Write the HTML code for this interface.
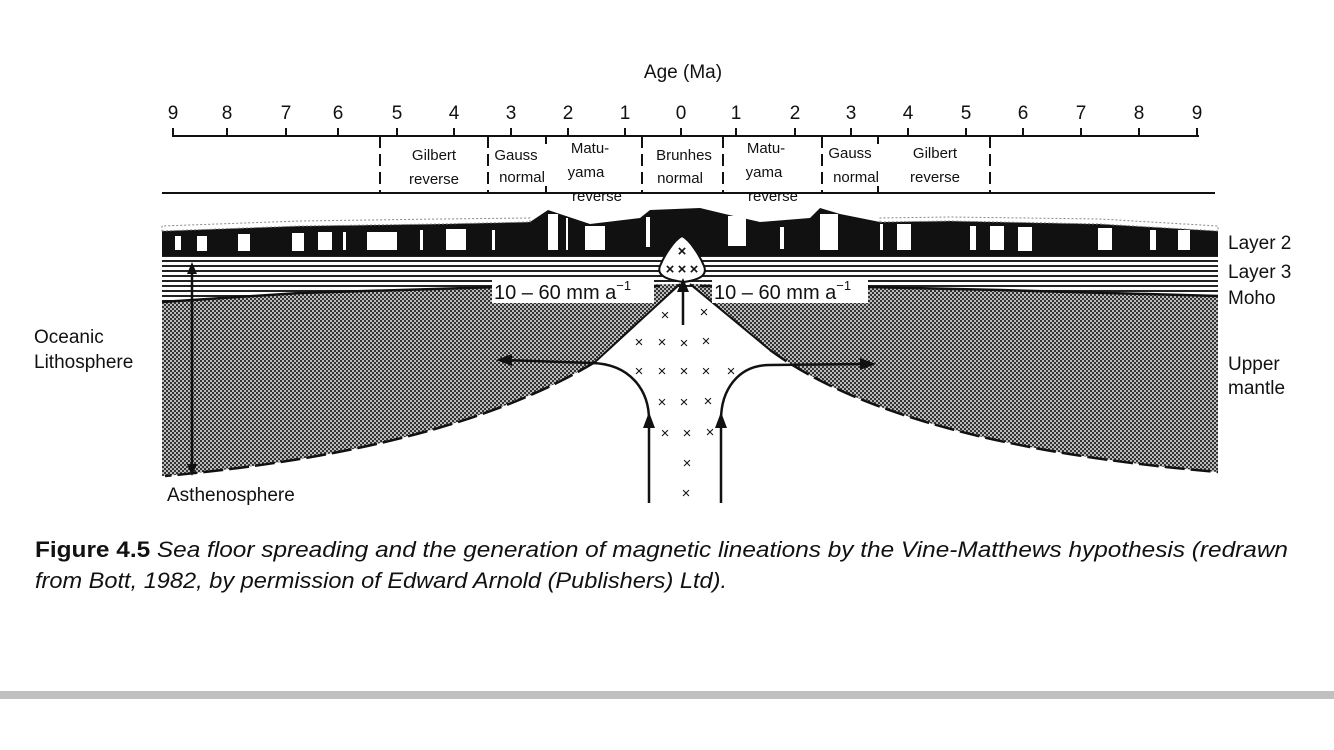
<!DOCTYPE html>
<html><head><meta charset="utf-8"><style>
html,body{margin:0;padding:0;background:#fff;}
svg{display:block;}
</style></head><body>
<svg width="1334" height="750" viewBox="0 0 1334 750" xmlns="http://www.w3.org/2000/svg" font-family="Liberation Sans, sans-serif">
<defs>
<pattern id="st" width="4" height="4" patternUnits="userSpaceOnUse">
<rect width="4" height="4" fill="#bbb"/>
<rect x="0" y="0" width="2" height="2" fill="#333"/>
<rect x="2" y="2" width="2" height="2" fill="#333"/>
</pattern>
<pattern id="hl" width="8" height="5" patternUnits="userSpaceOnUse">
<rect width="8" height="5" fill="#fff"/>
<rect x="0" y="0" width="8" height="2" fill="#222"/>
</pattern>
</defs>

<text x="683" y="78" font-size="19" text-anchor="middle" fill="#111">Age (Ma)</text>
<g font-size="19" fill="#111" text-anchor="middle">
<text x="173" y="119">9</text><text x="227" y="119">8</text><text x="286" y="119">7</text><text x="338" y="119">6</text><text x="397" y="119">5</text><text x="454" y="119">4</text><text x="511" y="119">3</text><text x="568" y="119">2</text><text x="625" y="119">1</text><text x="681" y="119">0</text><text x="736" y="119">1</text><text x="795" y="119">2</text><text x="851" y="119">3</text><text x="908" y="119">4</text><text x="966" y="119">5</text><text x="1023" y="119">6</text><text x="1081" y="119">7</text><text x="1139" y="119">8</text><text x="1197" y="119">9</text>
</g>
<g stroke="#111" stroke-width="2" fill="none">
<line x1="172" y1="136" x2="1199" y2="136"/>
<path d="M173 128V136M227 128V136M286 128V136M338 128V136M397 128V136M454 128V136M511 128V136M568 128V136M625 128V136M681 128V136M736 128V136M795 128V136M851 128V136M908 128V136M966 128V136M1023 128V136M1081 128V136M1139 128V136M1197 128V136"/>
<line x1="162" y1="193" x2="1215" y2="193"/>
<g stroke-dasharray="12 6">
<line x1="380" y1="136" x2="380" y2="193"/>
<line x1="488" y1="136" x2="488" y2="193"/>
<line x1="642" y1="136" x2="642" y2="193"/>
<line x1="723" y1="136" x2="723" y2="193"/>
<line x1="822" y1="136" x2="822" y2="193"/>
<line x1="990" y1="136" x2="990" y2="193"/>
</g>
<path d="M546 136V144M546 186V193M878 136V144M878 186V193"/>
</g>
<g font-size="15" fill="#111" text-anchor="middle">
<text x="434" y="160">Gilbert</text><text x="434" y="184">reverse</text>
<text x="516" y="160">Gauss</text><text x="522" y="182">normal</text>
<text x="590" y="153">Matu-</text><text x="586" y="177">yama</text><text x="597" y="201">reverse</text>
<text x="684" y="160">Brunhes</text><text x="680" y="183">normal</text>
<text x="766" y="153">Matu-</text><text x="764" y="177">yama</text><text x="773" y="201">reverse</text>
<text x="850" y="158">Gauss</text><text x="856" y="182">normal</text>
<text x="935" y="158">Gilbert</text><text x="935" y="182">reverse</text>
</g>

<path d="M162 255 L1218 255 L1218 296 L1000 290 L870 287 L700 287 L500 287 L300 293 L162 302Z" fill="url(#hl)"/>
<path d="M162 302 L300 293 L500 287 L680 284 L595 362 Q450 450 165 476 L162 476Z" fill="url(#st)"/>
<path d="M1218 296 L1000 290 L870 287 L690 284 L770 350 Q900 445 1218 472Z" fill="url(#st)"/>
<path d="M162 302 L300 293 L500 287 L660 286" stroke="#111" stroke-width="2.5" fill="none"/>
<path d="M700 286 L870 287 L1000 290 L1218 296" stroke="#111" stroke-width="2.5" fill="none"/>
<path d="M680 284 L595 362" stroke="#111" stroke-width="2" fill="none"/>
<path d="M595 362 Q450 450 165 476" stroke="#111" stroke-width="2.5" fill="none" stroke-dasharray="20 6"/>
<path d="M690 284 L770 350" stroke="#111" stroke-width="2" fill="none"/>
<path d="M770 350 Q900 445 1218 472" stroke="#111" stroke-width="2.5" fill="none" stroke-dasharray="20 6"/>

<path d="M162 231 L300 226 L440 224 L530 222 L548 210 L560 214 L590 224 L640 218 L650 210 L700 208 L725 214 L760 222 L810 218 L820 208 L840 214 L880 222 L950 221 L1100 224 L1218 231 L1218 256 L162 256Z" fill="#111"/>
<path d="M162 231 L300 226 L440 224 L530 222 L530 218 L440 219 L300 221 L162 226Z M880 222 L950 221 L1100 224 L1218 231 L1218 226 L1100 219 L950 217 L880 218Z" fill="#fff" stroke="#888" stroke-width="1" stroke-dasharray="2 2"/>
<g fill="#fff">
<rect x="175" y="236" width="6" height="14"/><rect x="197" y="236" width="10" height="15"/><rect x="238" y="234" width="12" height="17"/><rect x="292" y="233" width="12" height="18"/><rect x="318" y="232" width="14" height="18"/><rect x="343" y="232" width="3" height="18"/><rect x="367" y="232" width="30" height="18"/><rect x="420" y="230" width="3" height="20"/><rect x="446" y="229" width="20" height="21"/><rect x="492" y="230" width="3" height="20"/><rect x="548" y="214" width="10" height="36"/><rect x="566" y="218" width="2" height="32"/><rect x="585" y="226" width="20" height="24"/><rect x="646" y="217" width="4" height="30"/>
<rect x="728" y="216" width="18" height="30"/><rect x="780" y="227" width="4" height="22"/><rect x="820" y="214" width="18" height="36"/><rect x="880" y="224" width="3" height="26"/><rect x="897" y="224" width="14" height="26"/><rect x="970" y="226" width="6" height="24"/><rect x="990" y="226" width="14" height="24"/><rect x="1018" y="227" width="14" height="24"/><rect x="1098" y="228" width="14" height="22"/><rect x="1150" y="230" width="6" height="20"/><rect x="1178" y="230" width="12" height="20"/>
</g>

<path d="M682 236 C690 240 700 256 704 266 C708 276 698 280 684 282 C668 280 656 276 660 266 C664 256 674 240 682 236Z" fill="#fff" stroke="#111" stroke-width="2"/>
<g font-size="15" fill="#111" text-anchor="middle" font-weight="bold">
<text x="682" y="256">×</text><text x="670" y="274">×</text><text x="682" y="274">×</text><text x="694" y="274">×</text>
</g>
<rect x="492" y="279" width="162" height="24" fill="#fff"/>
<rect x="712" y="279" width="156" height="24" fill="#fff"/>
<text x="494" y="299" font-size="20" fill="#111">10 – 60 mm a<tspan font-size="13" dy="-9">−1</tspan></text>
<text x="714" y="299" font-size="20" fill="#111">10 – 60 mm a<tspan font-size="13" dy="-9">−1</tspan></text>

<g font-size="15" fill="#111" text-anchor="middle">
<text x="665" y="320">×</text><text x="704" y="317">×</text>
<text x="639" y="347">×</text><text x="662" y="347">×</text><text x="684" y="348">×</text><text x="706" y="346">×</text>
<text x="639" y="376">×</text><text x="662" y="376">×</text><text x="684" y="376">×</text><text x="706" y="376">×</text><text x="731" y="376">×</text>
<text x="662" y="407">×</text><text x="684" y="407">×</text><text x="708" y="406">×</text>
<text x="665" y="438">×</text><text x="687" y="438">×</text><text x="710" y="437">×</text>
<text x="687" y="468">×</text><text x="686" y="498">×</text>
</g>

<g stroke="#111" stroke-width="2.5" fill="none">
<path d="M683 325 V285"/>
<path d="M649 503 V420 C649 390 630 364 592 363 L505 360"/>
<path d="M721 503 V420 C721 390 738 365 770 365 L865 364"/>
<path d="M192 268 V470"/>
</g>
<g fill="#111">
<path d="M683 278 L677 292 L689 292Z"/>
<path d="M649 412 L643 428 L655 428Z"/>
<path d="M721 412 L715 428 L727 428Z"/>
<path d="M496 360 L512 354 L512 366Z"/>
<path d="M876 364 L860 358 L860 370Z"/>
<path d="M192 262 L187 274 L197 274Z"/>
<path d="M192 476 L187 464 L197 464Z"/>
</g>

<g font-size="19" fill="#111">
<text x="1228" y="249">Layer 2</text>
<text x="1228" y="278">Layer 3</text>
<text x="1228" y="304">Moho</text>
<text x="1228" y="370">Upper</text>
<text x="1228" y="394">mantle</text>
<text x="34" y="343">Oceanic</text>
<text x="34" y="368">Lithosphere</text>
<text x="167" y="501">Asthenosphere</text>
</g>

<text x="35" y="557" font-size="22" fill="#111" textLength="1253" lengthAdjust="spacingAndGlyphs"><tspan font-weight="bold" font-style="normal">Figure 4.5</tspan><tspan font-style="italic">  Sea floor spreading and the generation of magnetic lineations by the Vine-Matthews hypothesis (redrawn</tspan></text>
<text x="35" y="588" font-size="22" font-style="italic" fill="#111" textLength="692" lengthAdjust="spacingAndGlyphs">from Bott, 1982, by permission of Edward Arnold (Publishers) Ltd).</text>

<rect x="0" y="691" width="1334" height="8" fill="#c0c0c0"/>
</svg>
</body></html>
